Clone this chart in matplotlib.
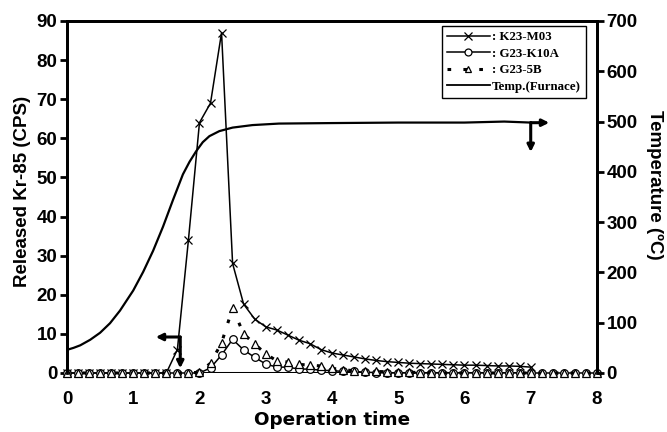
import numpy as np
import matplotlib
matplotlib.use('Agg')
import matplotlib.pyplot as plt
from matplotlib.lines import Line2D

plt.rcParams['font.family'] = ['Liberation Sans', 'DejaVu Sans']
plt.rcParams['font.weight'] = 'bold'

# samples every 10 minutes (time axis in hours)
time = np.arange(49) / 6.0

k23_m03 = [0, 0, 0, 0, 0, 0, 0, 0, 0, 0,
           6, 34, 64, 69, 87, 28, 17.6, 13.8, 11.8, 11.0,
           9.7, 8.4, 7.5, 6.0, 5.1, 4.6, 4.1, 3.6, 3.2, 2.9,
           2.7, 2.5, 2.4, 2.3, 2.2, 2.1, 2.0, 2.0, 1.9, 1.8,
           1.8, 1.7, 1.5]
g23_k10a = [0, 0, 0, 0, 0, 0, 0, 0, 0, 0,
            0, 0, 0, 1.3, 4.6, 8.6, 5.9, 4.0, 2.3, 1.5,
            1.5, 1.0, 1.0, 0.7, 0.6, 0.4, 0.4, 0.2, 0.1, 0,
            0, 0, 0, 0, 0, 0, 0, 0, 0, 0,
            0, 0, 0, 0, 0, 0, 0, 0, 0]
g23_5b = [0, 0, 0, 0, 0, 0, 0, 0, 0, 0,
          0, 0, 0.2, 2.5, 7.7, 16.6, 10.0, 7.4, 4.9, 3.1,
          2.8, 2.2, 2.0, 1.8, 1.2, 0.8, 0.6, 0.5, 0.4, 0.3,
          0.2, 0.2, 0.1, 0.1, 0, 0, 0, 0, 0, 0,
          0, 0, 0, 0, 0, 0, 0, 0, 0]

temp_time = [0, 0.1, 0.2, 0.35, 0.5, 0.65, 0.8, 1.0, 1.15, 1.3, 1.45, 1.6,
             1.75, 1.85, 1.95, 2.05, 2.15, 2.3, 2.5, 2.8, 3.2, 4.0, 5.0,
             6.0, 6.6, 7.0]
temp_val = [46, 50, 55, 66, 80, 99, 124, 164, 201, 243, 291, 344,
            395, 420, 441, 459, 471, 481, 488, 493, 496, 497, 498,
            498, 500, 498]

baseline_span = [2.05, 7.0]

# arrows: (corner, horizontal tip, vertical tip) in left-axis units
left_arrow = dict(corner=(1.71, 9.2), h_tip=(1.34, 9.2), v_tip=(1.71, 1.2))
right_arrow = dict(corner=(7.0, 64.0), h_tip=(7.28, 64.0), v_tip=(7.0, 56.5))

fig = plt.figure(figsize=(6.67, 4.32), dpi=100)
ax = fig.add_axes([0.1004, 0.1366, 0.7946, 0.8148])
ax2 = ax.twinx()

ax.plot(baseline_span, [0, 0], color='black', lw=2.2, zorder=2)

ax.plot(time[:len(k23_m03)], k23_m03, color='black', lw=1.1, marker='x',
        ms=6, mew=0.9, clip_on=False, zorder=3)
ax.plot(time, g23_k10a, color='black', lw=1.1, marker='o', ms=5.5,
        mfc='white', mew=0.9, clip_on=False, zorder=4)
ax.plot(time, g23_5b, color='black', lw=2.2, ls=(0, (1.2, 4)), marker='^',
        ms=6, mfc='white', mew=0.9, clip_on=False, zorder=5)
ax2.plot(temp_time, temp_val, color='black', lw=1.6, zorder=3)

for arr in (left_arrow, right_arrow):
    for tip in (arr['h_tip'], arr['v_tip']):
        ax.annotate('', xy=tip, xytext=arr['corner'],
                    arrowprops=dict(arrowstyle='-|>', color='black', lw=2.2,
                                    mutation_scale=10, shrinkA=0, shrinkB=0))

ax.set_xlim(0, 8)
ax.set_ylim(0, 90)
ax2.set_ylim(0, 700)
ax.set_xticks(range(0, 9))
ax.set_yticks(range(0, 91, 10))
ax2.set_yticks(range(0, 701, 100))

for a in (ax, ax2):
    a.spines['bottom'].set_visible(False)
    for s in ('left', 'right', 'top'):
        a.spines[s].set_linewidth(2)
ax.tick_params(axis='x', length=0, labelsize=13.5, pad=13)
ax.tick_params(axis='y', length=5, width=2, labelsize=13.5, pad=2)
ax2.tick_params(axis='y', length=5, width=2, labelsize=13.5, pad=2)

ax.set_xlabel('Operation time', fontsize=13.2, fontweight='bold', labelpad=2,
              family='DejaVu Sans')
ax.set_ylabel('Released Kr-85 (CPS)', fontsize=13.5, fontweight='bold', labelpad=4)
ax.yaxis.label.set_y(0.516)
ax2.set_ylabel('Temperature (ºC)', fontsize=13.5, fontweight='bold',
               rotation=270, labelpad=18)
ax2.yaxis.label.set_y(0.534)

handles = [
    Line2D([], [], color='black', lw=1.1, marker='x', ms=6, mew=0.9),
    Line2D([], [], color='black', lw=1.1, marker='o', ms=5, mfc='white', mew=0.9),
    Line2D([], [], color='black', lw=2.2, ls=(0, (1.2, 4)), marker='^', ms=5,
           mfc='white', mew=0.9),
    Line2D([], [], color='black', lw=1.3),
]
labels = [': K23-M03', ': G23-K10A', ': G23-5B', 'Temp.(Furnace)']
leg = ax.legend(handles, labels, loc='upper right', bbox_to_anchor=(0.985, 0.993),
                prop={'family': 'Liberation Serif', 'weight': 'bold', 'size': 9.3},
                frameon=True, fancybox=False, edgecolor='black', framealpha=1,
                handlelength=3.3, handletextpad=0.2, labelspacing=0.34,
                borderpad=0.4, borderaxespad=0.2)
leg.get_frame().set_linewidth(1.0)
leg.set_zorder(10)

fig.savefig('out.png', dpi=100)
